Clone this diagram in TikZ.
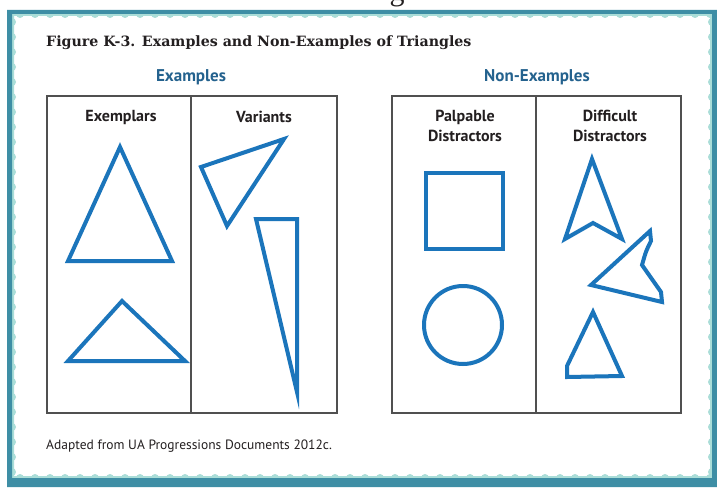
\documentclass[tikz,border=0pt]{standalone}
\usepackage{fontspec}
\setsansfont{PT Sans}
\newfontfamily\slabfont{DejaVu Serif}
\newfontfamily\gfont{Liberation Serif}
\usetikzlibrary{positioning}
\definecolor{tblue}{RGB}{27,117,187}
\definecolor{hblue}{RGB}{36,98,142}
\definecolor{dteal}{RGB}{62,142,165}
\definecolor{lteal}{RGB}{170,221,216}
\definecolor{boxgray}{RGB}{80,80,80}
\definecolor{ink}{RGB}{35,31,32}
\tikzset{tri/.style = {draw=tblue, line width=4, line join=miter, miter limit=20}}
\tikzset{boxline/.style = {draw=boxgray, line width=1.4}}
\tikzset{hdr/.style = {font=\sffamily\bfseries\fontsize{17}{19}\selectfont, text=hblue}}
\tikzset{col/.style = {font=\sffamily\bfseries\fontsize{16}{19.5}\selectfont, text=ink, align=center}}

\begin{document}
\begin{tikzpicture}[x=1pt, y=-1pt]
      \useasboundingbox (0, 0) rectangle (717, 487);
      \fill [white] (0, 0) rectangle (717, 487);
      % cut-off letter from the page above
      \begin{scope}
        \clip (0, 0) rectangle (717, 10);
        \node [anchor = base, inner sep = 0, text = ink, font = \gfont\fontsize{30}{30}\selectfont] (gfrag) at (397, 1) {g};
      \end{scope}
      % scalloped frame
      \fill [lteal, even odd rule] (12, 14) rectangle (712, 478) (14, 16) rectangle (710, 476);
      \foreach \x in {20, 35, ..., 710} {
        \fill [lteal] (\x, 14) circle (4);
        \fill [lteal] (\x, 478) circle (4);
      }
      \foreach \y in {22, 37, ..., 475} {
        \fill [lteal] (12, \y) circle (4);
        \fill [lteal] (712, \y) circle (4);
      }
      \fill [dteal, even odd rule] (7, 10) rectangle (717, 487) (12, 14) rectangle (712, 478);
      % texts
      \node [anchor = west, inner sep = 0, text = ink, font = \slabfont\bfseries\fontsize{14.2}{18}\selectfont] (title) at (46, 43) {Figure K-3. Examples and Non-Examples of Triangles};
      \node [hdr] (ex) at (191, 77) {Examples};
      \node [hdr] (nonex) at (537, 77) {Non-Examples};
      \node [col] (exemplars) at (121, 117) {Exemplars};
      \node [col] (variants) at (264, 117) {Variants};
      \node [col] (palpable) at (465, 126) {Palpable\\Distractors};
      \node [col] (difficult) at (610, 126) {Difficult\\Distractors};
      \node [anchor = west, inner sep = 0, text = ink, font = \sffamily\fontsize{13.5}{15}\selectfont] (source) at (46, 446) {Adapted from UA Progressions Documents 2012c.};
      % boxes
      \draw [boxline] (47, 96) rectangle (337, 413);
      \draw [boxline] (191, 96) -- (191, 413);
      \draw [boxline] (392, 96) rectangle (681, 413);
      \draw [boxline] (536, 96) -- (536, 413);
      % examples
      \draw [tri] (120, 147) -- (172, 261) -- (68, 261) -- cycle;
      \draw [tri] (122, 301) -- (185, 361) -- (68, 361) -- cycle;
      \draw [tri] (201, 167) -- (284, 139) -- (227, 226) -- cycle;
      \draw [tri] (256, 219) -- (297, 219) -- (297, 392) -- cycle;
      % non-examples
      \draw [tri] (426, 173) rectangle (503, 249);
      \draw [tri] (463, 325) circle (39);
      \draw [tri] (592, 159) -- (622, 239) -- (593, 223) -- (565, 239) -- cycle;
      \draw [tri] (650, 231) -- (651, 241) .. controls (646, 251) .. (642, 265) -- (661, 292) -- (662, 302) -- (591, 285) -- cycle;
      \draw [tri] (593, 312) -- (622, 376) -- (567, 377) -- (567, 366) -- cycle;
    \end{tikzpicture}
\end{document}
